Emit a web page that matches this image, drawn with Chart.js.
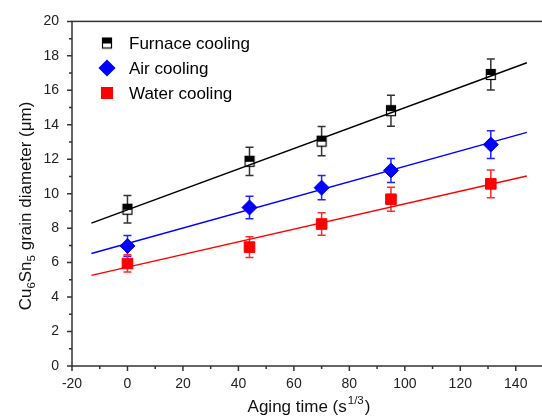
<!DOCTYPE html>
<html>
<head>
<meta charset="utf-8">
<script src="https://cdn.jsdelivr.net/npm/chart.js@4.4.0/dist/chart.umd.min.js"></script>
<style>
  html, body { margin: 0; padding: 0; background: #fff; overflow: hidden; }
  #wrap { width: 542px; height: 418px; overflow: hidden; position: relative; }
</style>
</head>
<body>
<div id="wrap"><canvas id="grainChart" width="552" height="418"></canvas></div>
<script>
// aging time (s^1/3)
let ageX = [0, 44, 70, 95, 131];

// grain diameter (um) and error bars
let furnace = [9.1, 11.88, 13.05, 14.82, 16.92];
let furnaceErr = [0.8, 0.82, 0.85, 0.9, 0.9];
let air = [6.97, 9.2, 10.35, 11.35, 12.85];
let airErr = [0.6, 0.65, 0.7, 0.7, 0.8];
let water = [5.95, 6.9, 8.24, 9.68, 10.57];
let waterErr = [0.5, 0.6, 0.65, 0.7, 0.8];

// fitted lines, end points
let fitX = [-13, 144];
let furnaceFit = [8.29, 17.6];
let airFit = [6.53, 13.56];
let waterFit = [5.26, 11.03];

let xTicks = [-20, 0, 20, 40, 60, 80, 100, 120, 140];
let yTicks = [0, 2, 4, 6, 8, 10, 12, 14, 16, 18, 20];
let legendLabels = ['Furnace cooling', 'Air cooling', 'Water cooling'];

const FONT = '"Liberation Sans", Arial, sans-serif';

// half filled square for furnace cooling
let halfSquare = document.createElement('canvas');
halfSquare.width = 12;
halfSquare.height = 13;
(function () {
    let c = halfSquare.getContext('2d');
    c.fillStyle = '#fff';
    c.fillRect(1, 1, 10, 11);
    c.fillStyle = '#000';
    c.fillRect(1, 1, 10, 6);
    c.strokeStyle = '#000';
    c.lineWidth = 1.2;
    c.strokeRect(1.5, 1.5, 9, 10);
})();

function pts(xs, ys) {
    return xs.map((x, i) => ({ x: x, y: ys[i] }));
}

let series = [
    { data: furnace, err: furnaceErr, color: '#000', barColor: '#333', style: halfSquare, radius: 5 },
    { data: air, err: airErr, color: '#0000ff', barColor: '#2222ff', style: 'rectRot', radius: 7.5 },
    { data: water, err: waterErr, color: '#ff0000', barColor: '#ff2a2a', style: 'rect', radius: 7.5 }
];

let errorBars = {
    id: 'errorBars',
    beforeDatasetsDraw(chart) {
        let ctx = chart.ctx;
        let xs = chart.scales.x, ys = chart.scales.y;
        ctx.save();
        ctx.lineWidth = 1.5;
        series.forEach(s => {
            ctx.strokeStyle = s.barColor;
            s.data.forEach((v, i) => {
                let px = xs.getPixelForValue(ageX[i]);
                let top = ys.getPixelForValue(v + s.err[i]);
                let bot = ys.getPixelForValue(v - s.err[i]);
                ctx.beginPath();
                ctx.moveTo(px, top); ctx.lineTo(px, bot);
                ctx.moveTo(px - 4, top); ctx.lineTo(px + 4, top);
                ctx.moveTo(px - 4, bot); ctx.lineTo(px + 4, bot);
                ctx.stroke();
            });
        });
        ctx.restore();
    }
};

let frame = {
    id: 'frame',
    afterDraw(chart) {
        let ctx = chart.ctx;
        let a = chart.chartArea;
        let xs = chart.scales.x, ys = chart.scales.y;
        ctx.save();
        ctx.strokeStyle = '#333';
        ctx.lineWidth = 1.5;
        ctx.strokeRect(a.left, a.top, a.right - a.left, a.bottom - a.top);
        // outward ticks, major + minor
        ctx.beginPath();
        for (let v = -20; v <= 150; v += 10) {
            let px = xs.getPixelForValue(v);
            let len = v % 20 === 0 ? 5 : 3;
            ctx.moveTo(px, a.bottom); ctx.lineTo(px, a.bottom + len);
        }
        for (let v = 0; v <= 20; v += 1) {
            let py = ys.getPixelForValue(v);
            let len = v % 2 === 0 ? 5 : 3;
            ctx.moveTo(a.left, py); ctx.lineTo(a.left - len, py);
        }
        ctx.stroke();

        // legend
        ctx.font = '17px ' + FONT;
        ctx.textBaseline = 'middle';
        ctx.textAlign = 'left';
        let ly = [43, 68, 93];
        series.forEach((s, i) => {
            ctx.fillStyle = s.color;
            ctx.strokeStyle = s.color;
            Chart.helpers.drawPoint(ctx, { pointStyle: s.style, radius: s.radius, rotation: 0, borderWidth: 1 }, 107, ly[i]);
            ctx.fillStyle = '#000';
            ctx.fillText(legendLabels[i], 129, ly[i] + 1);
        });

        // x title with superscript
        ctx.fillStyle = '#111';
        ctx.textBaseline = 'alphabetic';
        let big = '17px ' + FONT, small = '11.5px ' + FONT;
        let p1 = 'Aging time (s', p3 = ')';
        ctx.font = big; let w1 = ctx.measureText(p1).width, w3 = ctx.measureText(p3).width;
        ctx.font = small; let w2 = ctx.measureText('1/3').width;
        let x0 = 308 - (w1 + w2 + w3) / 2, yb = 412;
        ctx.font = big; ctx.fillText(p1, x0, yb);
        ctx.font = small; ctx.fillText('1/3', x0 + w1 + 1, yb - 8);
        ctx.font = big; ctx.fillText(p3, x0 + w1 + w2 + 2, yb);

        // y title with subscripts
        ctx.save();
        ctx.translate(31, 206);
        ctx.rotate(-Math.PI / 2);
        let parts = [['Cu', big, 0], ['6', small, 4], ['Sn', big, 0], ['5', small, 4], [' grain diameter (\u03bcm)', big, 0]];
        let total = 0;
        parts.forEach(p => { ctx.font = p[1]; total += ctx.measureText(p[0]).width; });
        let cx = -total / 2;
        parts.forEach(p => {
            ctx.font = p[1];
            ctx.fillText(p[0], cx, p[2]);
            cx += ctx.measureText(p[0]).width;
        });
        ctx.restore();
        ctx.restore();
    }
};

let datasets = [
    { type: 'line', data: pts(fitX, furnaceFit), borderColor: '#000', borderWidth: 1.5, pointRadius: 0, showLine: true, order: 1 },
    { type: 'line', data: pts(fitX, airFit), borderColor: '#0000ff', borderWidth: 1.5, pointRadius: 0, showLine: true, order: 1 },
    { type: 'line', data: pts(fitX, waterFit), borderColor: '#ff0000', borderWidth: 1.5, pointRadius: 0, showLine: true, order: 1 }
];
series.forEach(s => {
    datasets.push({
        type: 'scatter',
        data: pts(ageX, s.data),
        pointStyle: s.style,
        pointRadius: s.radius,
        backgroundColor: s.color,
        borderColor: s.color,
        borderWidth: 1,
        order: 2
    });
});

let grainChart = new Chart(document.getElementById('grainChart'), {
    type: 'scatter',
    data: { datasets: datasets },
    options: {
        responsive: false,
        maintainAspectRatio: false,
        animation: false,
        layout: { padding: { top: 14, right: 5, left: 0, bottom: 0 } },
        plugins: { legend: { display: false }, tooltip: { enabled: false } },
        scales: {
            x: {
                type: 'linear',
                min: -20, max: 150,
                grid: { display: false, drawTicks: false },
                border: { display: false },
                ticks: {
                    padding: 10,
                    color: '#222',
                    font: { family: FONT, size: 14 },
                    maxRotation: 0,
                    autoSkip: false
                },
                afterBuildTicks: s => { s.ticks = xTicks.map(v => ({ value: v })); },
                afterFit: s => { s.height = 52; }
            },
            y: {
                min: 0, max: 20,
                grid: { display: false, drawTicks: false },
                border: { display: false },
                ticks: {
                    padding: 13,
                    color: '#222',
                    font: { family: FONT, size: 14 },
                    autoSkip: false
                },
                afterBuildTicks: s => { s.ticks = yTicks.map(v => ({ value: v })); },
                afterFit: s => { s.width = 72; }
            }
        }
    },
    plugins: [errorBars, frame]
});
</script>
</body>
</html>
